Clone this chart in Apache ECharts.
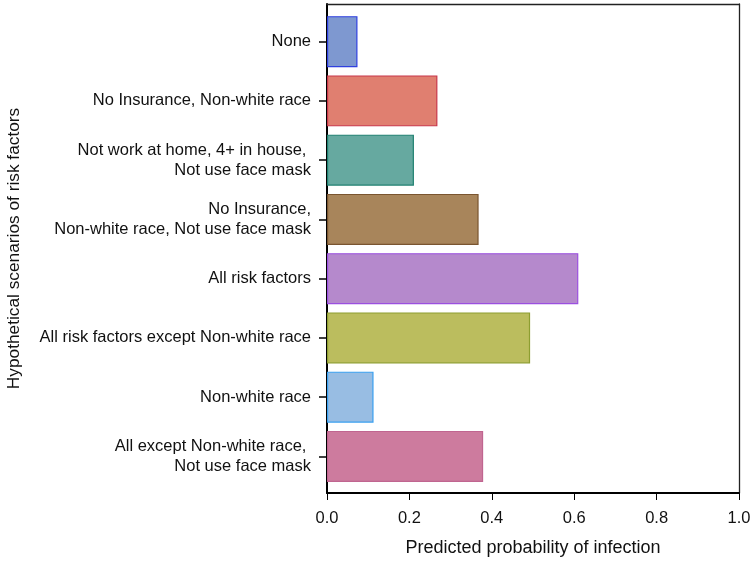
<!DOCTYPE html>
<html><head><meta charset="utf-8">
<script src="https://cdn.jsdelivr.net/npm/echarts@6/dist/echarts.min.js"></script>
<style>html,body{margin:0;padding:0;background:#fff}#c{width:750px;height:561px}</style>
</head><body><div id="c"></div>
<script>
const categories = [
  'None',
  'No Insurance, Non-white race',
  'Not work at home, 4+ in house, \nNot use face mask',
  'No Insurance,\nNon-white race, Not use face mask',
  'All risk factors',
  'All risk factors except Non-white race',
  'Non-white race',
  'All except Non-white race, \nNot use face mask'
];
const probabilities = [0.074, 0.268, 0.211, 0.368, 0.610, 0.493, 0.113, 0.379];
const xTicks = [0, 0.2, 0.4, 0.6, 0.8, 1.0];
const xTitle = 'Predicted probability of infection';
const yTitle = 'Hypothetical scenarios of risk factors';

const fillPalette = ['#7E98D0','#E07F70','#66A9A0','#A8855B','#B589CC','#BBBD5E','#98BDE3','#CD7B9E'];
const edgePalette = ['#3040E0','#C8374A','#1F8070','#7A5530','#9B4FE0','#8E9E30','#3AA0F0','#C06590'];

const FONT = 'Liberation Sans, Arial, sans-serif';
const frameOnly = {show: true, onZero: false, lineStyle: {color: '#222', width: 1.3}};
const chart = echarts.init(document.getElementById('c'));
chart.setOption({
  animation: false,
  textStyle: {fontFamily: FONT},
  grid: [
    {left: 327, right: 11, top: 4, bottom: 68, containLabel: false, outerBoundsMode: 'none'},
    {left: 327, right: 11, top: 12, bottom: 75, containLabel: false, outerBoundsMode: 'none'}
  ],
  xAxis: [
    {gridIndex: 0, type: 'value', min: xTicks[0], max: xTicks[xTicks.length-1], interval: 0.2,
     axisLine: {show: true, onZero: false, lineStyle: {color: '#000', width: 2}},
     axisTick: {show: true, length: 7, lineStyle: {color: '#000', width: 1}},
     axisLabel: {fontSize: 16.5, color: '#111', margin: 17, fontFamily: FONT, formatter: v => v.toFixed(1)},
     splitLine: {show: false},
     name: xTitle, nameLocation: 'middle', nameGap: 46,
     nameTextStyle: {fontSize: 18, color: '#111', fontFamily: FONT}},
    {gridIndex: 1, type: 'value', min: 0, max: 1, show: false},
    {gridIndex: 0, type: 'value', position: 'top', min: 0, max: 1,
     axisLine: frameOnly, axisTick: {show: false}, axisLabel: {show: false}, splitLine: {show: false}}
  ],
  yAxis: [
    {gridIndex: 0, type: 'value', min: 0, max: 1,
     axisLine: {show: true, onZero: false, lineStyle: {color: '#000', width: 2}},
     axisTick: {show: false}, axisLabel: {show: false}, splitLine: {show: false},
     name: yTitle, nameLocation: 'middle', nameGap: 304, nameRotate: 90,
     nameTextStyle: {fontSize: 17.3, color: '#111', fontFamily: FONT}},
    {gridIndex: 1, type: 'category', data: categories, inverse: true,
     axisLine: {show: false},
     axisTick: {show: true, alignWithLabel: true, length: 8, lineStyle: {color: '#000', width: 1.5}},
     axisLabel: {fontSize: 16.5, color: '#111', margin: 16, lineHeight: 20, align: 'right', fontFamily: FONT},
     splitLine: {show: false}},
    {gridIndex: 0, type: 'value', position: 'right', min: 0, max: 1,
     axisLine: frameOnly, axisTick: {show: false}, axisLabel: {show: false}, splitLine: {show: false}}
  ],
  series: [{
    type: 'bar', xAxisIndex: 1, yAxisIndex: 1, barWidth: 51,
    data: probabilities.map((v, i) => ({
      value: v,
      itemStyle: {color: fillPalette[i], borderColor: edgePalette[i], borderWidth: 1.2}
    }))
  }]
});
</script></body></html>
